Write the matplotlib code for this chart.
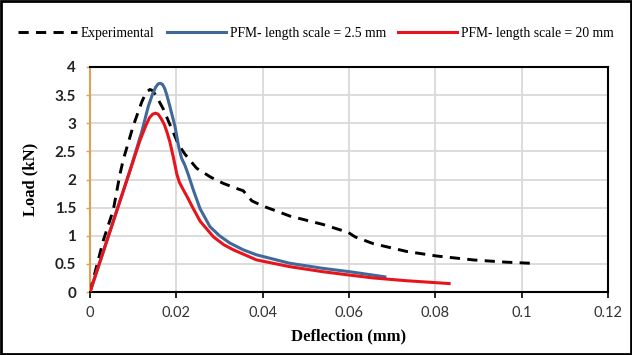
import matplotlib
matplotlib.use("Agg")
import matplotlib.pyplot as plt
from matplotlib.patches import Rectangle

# Experimental data (dashed)
exp_x = [0, 0.0015, 0.0031, 0.0054, 0.0069, 0.0077, 0.0100, 0.0120, 0.0127, 0.0133, 0.0139,
         0.0145, 0.0152, 0.0158, 0.0170, 0.0181, 0.0195, 0.0205, 0.0220, 0.0247, 0.0280,
         0.0309, 0.0340, 0.0355, 0.0375, 0.0400, 0.0463, 0.0540, 0.0598,
         0.0614, 0.0656, 0.0734, 0.0803, 0.0888, 0.0965, 0.1023]
exp_y = [0, 0.45, 0.92, 1.46, 2.08, 2.35, 2.95, 3.38, 3.50, 3.57, 3.60,
         3.58, 3.50, 3.42, 3.25, 3.05, 2.80, 2.62, 2.45, 2.20, 2.04,
         1.93, 1.84, 1.80, 1.62, 1.53, 1.35, 1.20, 1.06,
         0.98, 0.86, 0.72, 0.64, 0.57, 0.53, 0.51]

# PFM length scale = 2.5 mm (blue)
b_x = [0, 0.0093, 0.0120, 0.0135, 0.0145, 0.0152, 0.0158, 0.0163, 0.0168, 0.0173, 0.0178,
       0.0185, 0.0197, 0.0205, 0.0212, 0.0220, 0.0228, 0.0240, 0.0255, 0.0278, 0.0300,
       0.0324, 0.0355, 0.0386, 0.0463, 0.0540, 0.0602, 0.0683]
b_y = [0, 2.17, 2.85, 3.30, 3.52, 3.64, 3.70, 3.71, 3.69, 3.62, 3.50,
       3.30, 2.94, 2.60, 2.38, 2.25, 2.08, 1.80, 1.48, 1.16, 1.00,
       0.87, 0.75, 0.66, 0.51, 0.42, 0.36, 0.27]

# PFM length scale = 20 mm (red)
r_x = [0, 0.0116, 0.0130, 0.0138, 0.0145, 0.0152, 0.0158, 0.0165, 0.0172, 0.0178, 0.0185,
       0.0193, 0.0201, 0.0207, 0.0216, 0.0226, 0.0238, 0.0255, 0.0286, 0.0310, 0.0332,
       0.0386, 0.0463, 0.0540, 0.0602, 0.0656, 0.0734, 0.0832]
r_y = [0, 2.70, 2.97, 3.10, 3.16, 3.18, 3.16, 3.08, 2.98, 2.85, 2.67,
       2.40, 2.10, 1.95, 1.82, 1.68, 1.50, 1.26, 0.98, 0.84, 0.75,
       0.57, 0.45, 0.36, 0.30, 0.25, 0.20, 0.15]

x_ticks = [0, 0.02, 0.04, 0.06, 0.08, 0.1, 0.12]
x_labels = ['0', '0.02', '0.04', '0.06', '0.08', '0.1', '0.12']
y_ticks = [0, 0.5, 1, 1.5, 2, 2.5, 3, 3.5, 4]
y_labels = ['0', '0.5', '1', '1.5', '2', '2.5', '3', '3.5', '4']

W, H = 632, 355
fig = plt.figure(figsize=(W / 100, H / 100), dpi=100)
ax = fig.add_axes([90 / W, 1 - 292 / H, (608 - 90) / W, (292 - 67) / H])

ax.plot(exp_x, exp_y, color='black', lw=2.1, ls=(0, (3.5, 2.5)), label='Experimental', zorder=3)
ax.plot(b_x, b_y, color='#41689a', lw=2.2, label='PFM- length scale = 2.5 mm', zorder=3,
        solid_joinstyle='round')
ax.plot(r_x, r_y, color='#e8141c', lw=2.2, label='PFM- length scale = 20 mm', zorder=4,
        solid_joinstyle='round')

ax.set_xlim(0, 0.12)
ax.set_ylim(0, 4)
ax.set_xticks(x_ticks)
ax.set_xticklabels(x_labels, fontsize=10.5, family='Lato', color='#333333')
ax.set_yticks(y_ticks)
ax.set_yticklabels(y_labels, fontsize=11, family='Lato', fontweight='bold', color='#222222')
ax.grid(True, color='#d9d9d9', lw=1.3)
ax.set_axisbelow(True)

for s in ['top', 'right', 'bottom']:
    ax.spines[s].set_color('black')
    ax.spines[s].set_linewidth(1.5)
ax.spines['left'].set_color('#e0a050')
ax.spines['left'].set_linewidth(1.5)
ax.tick_params(axis='x', direction='out', length=4, width=1.2, color='black', pad=6)
ax.tick_params(axis='y', direction='out', length=3, width=1.0, color='#e0a050', pad=7)

ax.set_xlabel('Deflection (mm)', family='Liberation Serif', fontweight='bold', fontsize=12, labelpad=6)
ax.set_ylabel('Load (kN)', family='Liberation Serif', fontweight='bold', fontsize=12, labelpad=12)

fig.legend(loc='center', bbox_to_anchor=(0.5, 1 - 33 / H), ncol=3, frameon=False,
           prop={'family': 'Liberation Serif', 'size': 9.8}, handlelength=4.3,
           columnspacing=0.9, handletextpad=0.3)

fig.add_artist(Rectangle((0.002, 0.004), 0.996, 0.992, transform=fig.transFigure,
                         fill=False, edgecolor='black', lw=2))

fig.savefig('out.png', dpi=100)
